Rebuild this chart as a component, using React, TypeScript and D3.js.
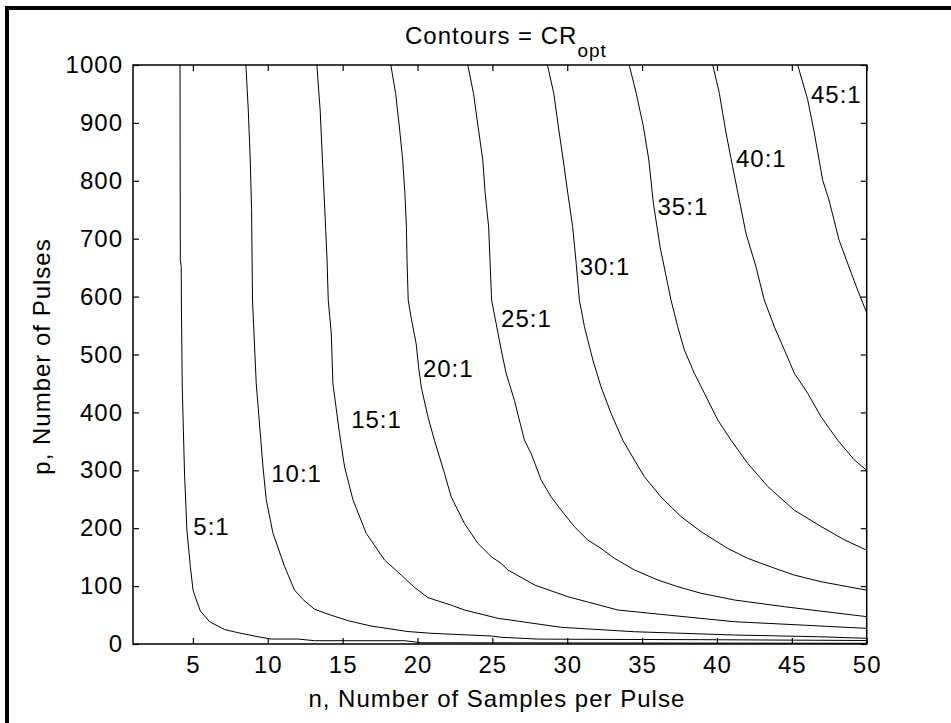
import { useEffect, useRef } from "react";
import * as d3 from "d3";

// axis ticks
const xTicks = [5, 10, 15, 20, 25, 30, 35, 40, 45, 50];
const yTicks = [0, 100, 200, 300, 400, 500, 600, 700, 800, 900, 1000];

// contour levels (CR_opt) and traced contour points [n, p]
const levels = [5, 10, 15, 20, 25, 30, 35, 40, 45];

const cr5 = [
  [4.14, 1000], [4.16, 663], [4.22, 652], [4.23, 594], [4.29, 444], [4.44, 295],
  [4.6, 197], [4.83, 134], [5.01, 93], [5.23, 76], [5.5, 57], [6.11, 38.5],
  [7.12, 25], [8.01, 19.5], [9.34, 12.6], [10.23, 8.6], [12.01, 8.6], [13.12, 5.7],
  [19.13, 5.7], [20.25, 2.2], [50, 1.2],
];
const cr10 = [
  [8.54, 1000], [8.7, 922], [8.83, 836], [8.92, 750], [8.98, 594], [9.23, 450],
  [9.68, 306], [9.9, 249], [10.35, 191], [11.12, 134], [11.79, 93], [12.35, 77],
  [13.12, 60], [14.2, 50], [15.4, 40], [16.91, 31], [19.36, 21.5], [20.91, 18.5],
  [24.92, 13.8], [25.59, 11.6], [28.04, 8.5], [32, 8], [38.9, 7.5], [50, 6],
];
const cr15 = [
  [13.28, 1000], [13.5, 922], [13.65, 836], [13.81, 750], [13.96, 663], [14.04, 594],
  [14.24, 537], [14.35, 450], [14.79, 364], [15.13, 306], [15.69, 249], [16.58, 191],
  [17.8, 145], [18.92, 119], [19.79, 98], [20.7, 80], [22.26, 67], [23.14, 58.7],
  [25.37, 44.4], [29.6, 28.8], [34.48, 21.2], [41.16, 15.5], [46.73, 12.6], [50, 9.8],
];
const cr20 = [
  [18.22, 1000], [18.54, 951], [18.79, 893], [19.01, 836], [19.16, 778], [19.26, 721],
  [19.3, 663], [19.38, 594], [19.6, 560], [19.91, 519], [20.07, 479], [20.25, 444],
  [20.69, 393], [21.13, 352], [21.8, 295], [22.25, 254], [23.14, 208], [24.03, 174],
  [24.92, 151], [25.59, 139], [26.03, 128], [27.81, 102], [30.04, 81.7], [33.38, 58.7],
  [36.71, 50], [41.16, 38.5], [45.61, 32.8], [50, 27],
];
const cr25 = [
  [23.36, 1000], [23.74, 951], [24.05, 893], [24.36, 836], [24.52, 778], [24.75, 721],
  [24.95, 594], [25.59, 508], [25.92, 467.5], [26.47, 421], [27.14, 352], [27.59, 329],
  [28.26, 283], [28.93, 254], [29.6, 231], [30.48, 202.6], [31.37, 179.6], [32.26, 165],
  [33.15, 148], [34.48, 128], [36.05, 110.5], [37.38, 99], [38.94, 87.6], [41.16, 76],
  [44.5, 64.4], [50, 47.2],
];
const cr30 = [
  [28.68, 1000], [29.1, 951], [29.41, 893], [29.73, 836], [30.04, 778], [30.36, 721],
  [30.58, 663], [30.81, 594], [31.15, 548], [31.71, 490.5], [32.26, 444], [32.93, 398],
  [33.71, 352], [34.48, 318], [35.15, 289], [36.26, 254], [37.6, 220], [38.94, 194],
  [40.72, 165], [42.05, 148], [43.83, 131], [45.17, 119], [46.95, 107.6], [48.73, 99],
  [50, 93],
];
const cr35 = [
  [34.14, 1000], [34.61, 951], [35.09, 893], [35.45, 836], [35.75, 762], [36.2, 686],
  [36.93, 594], [37.38, 548], [37.82, 508], [38.49, 467.5], [39.16, 433], [40.05, 387],
  [40.94, 352], [42.05, 312], [43.39, 272], [45.17, 231], [46.95, 203], [48.5, 180],
  [50, 162],
];
const cr40 = [
  [39.72, 1000], [40.16, 951], [40.61, 882], [41.05, 824], [41.49, 767], [41.94, 709],
  [42.6, 652], [43.16, 594], [43.83, 548], [44.5, 508], [45.17, 467.5], [46.06, 433],
  [46.95, 392.6], [48.06, 352], [49.17, 318], [50, 300],
];
const cr45 = [
  [45.39, 1000], [46.06, 940], [46.5, 883], [47.06, 801], [47.48, 767], [48.15, 698],
  [48.82, 651], [49.4, 611], [50, 572],
];
const contours = [cr5, cr10, cr15, cr20, cr25, cr30, cr35, cr40, cr45];

// where each clabel sits (left edge / baseline), in data units
const labelSpots = [
  [5.03, 188], [10.23, 280], [15.57, 372.5], [20.36, 461.7], [25.58, 548],
  [30.83, 637], [36.03, 741], [41.27, 824], [46.28, 934],
];

const W = 951, H = 723;
const m = { left: 133, right: 866.7, top: 65, bottom: 644 };
const FONT = "'Liberation Sans', Arial, Helvetica, sans-serif";
const FS = 24;

export default function App() {
  const ref = useRef<SVGSVGElement>(null);

  useEffect(() => {
    const svg = d3.select(ref.current);
    svg.selectAll("*").remove();

    const x = d3.scaleLinear().domain([1, 50]).range([m.left, m.right]);
    const y = d3.scaleLinear().domain([0, 1000]).range([m.bottom, m.top]);

    svg.append("rect").attr("width", W).attr("height", H).attr("fill", "#fff");

    // outer figure frame (only top/left edges fall inside the picture)
    svg.append("path")
      .attr("d", `M7,${H + 10} L7,8 L${W + 10},8`)
      .attr("fill", "none")
      .attr("stroke", "#000")
      .attr("stroke-width", 4);

    svg.append("defs").append("clipPath").attr("id", "plot")
      .append("rect")
      .attr("x", m.left).attr("y", m.top)
      .attr("width", m.right - m.left).attr("height", m.bottom - m.top);

    const line = d3.line<number[]>().x((d) => x(d[0])).y((d) => y(d[1]));

    svg.append("g")
      .attr("clip-path", "url(#plot)")
      .selectAll("path")
      .data(contours)
      .join("path")
      .attr("d", (d) => line(d))
      .attr("fill", "none")
      .attr("stroke", "#000")
      .attr("stroke-width", 1);

    svg.append("g")
      .selectAll("text")
      .data(levels)
      .join("text")
      .attr("x", (_, i) => x(labelSpots[i][0]))
      .attr("y", (_, i) => y(labelSpots[i][1]))
      .attr("font-family", FONT)
      .attr("font-size", FS)
      .attr("letter-spacing", 1)
      .text((d) => `${d}:1`);

    const styleAxis = (g: any) => {
      g.select(".domain").remove();
      g.selectAll("line").attr("stroke", "#000").attr("stroke-width", 1.2);
      g.selectAll("text")
        .attr("font-family", FONT)
        .attr("font-size", FS)
        .attr("letter-spacing", 1)
        .attr("fill", "#000");
    };

    svg.append("g")
      .attr("transform", `translate(0,${m.bottom})`)
      .call(d3.axisBottom(x).tickValues(xTicks).tickSizeInner(-6).tickSizeOuter(0).tickPadding(12).tickFormat(d3.format("d")))
      .call(styleAxis);

    svg.append("g")
      .attr("transform", `translate(0,${m.top})`)
      .call(d3.axisTop(x).tickValues(xTicks).tickSizeInner(-6).tickSizeOuter(0).tickFormat(() => ""))
      .call(styleAxis);

    svg.append("g")
      .attr("transform", `translate(${m.left},0)`)
      .call(d3.axisLeft(y).tickValues(yTicks).tickSizeInner(-6).tickSizeOuter(0).tickPadding(10).tickFormat(d3.format("d")))
      .call(styleAxis);

    svg.append("g")
      .attr("transform", `translate(${m.right},0)`)
      .call(d3.axisRight(y).tickValues(yTicks).tickSizeInner(-6).tickSizeOuter(0).tickFormat(() => ""))
      .call(styleAxis);

    // axes box
    svg.append("rect")
      .attr("x", m.left).attr("y", m.top)
      .attr("width", m.right - m.left).attr("height", m.bottom - m.top)
      .attr("fill", "none")
      .attr("stroke", "#000")
      .attr("stroke-width", 1.5);

    // title with subscript
    const title = svg.append("text")
      .attr("x", 405).attr("y", 43.5)
      .attr("font-family", FONT)
      .attr("font-size", FS)
      .attr("letter-spacing", 1);
    title.append("tspan").text("Contours = CR");
    title.append("tspan").attr("dy", 13).attr("font-size", 19).text("opt");

    svg.append("text")
      .attr("x", (m.left + m.right) / 2 - 3)
      .attr("y", 707)
      .attr("text-anchor", "middle")
      .attr("font-family", FONT)
      .attr("font-size", FS)
      .attr("letter-spacing", 1)
      .text("n, Number of Samples per Pulse");

    svg.append("text")
      .attr("transform", `translate(50,${(m.top + m.bottom) / 2 + 2}) rotate(-90)`)
      .attr("text-anchor", "middle")
      .attr("font-family", FONT)
      .attr("font-size", FS)
      .attr("letter-spacing", 1)
      .text("p, Number of Pulses");
  }, []);

  return (
    <svg
      ref={ref}
      width={W}
      height={H}
      style={{ position: "absolute", left: 0, top: 0, display: "block" }}
    />
  );
}
